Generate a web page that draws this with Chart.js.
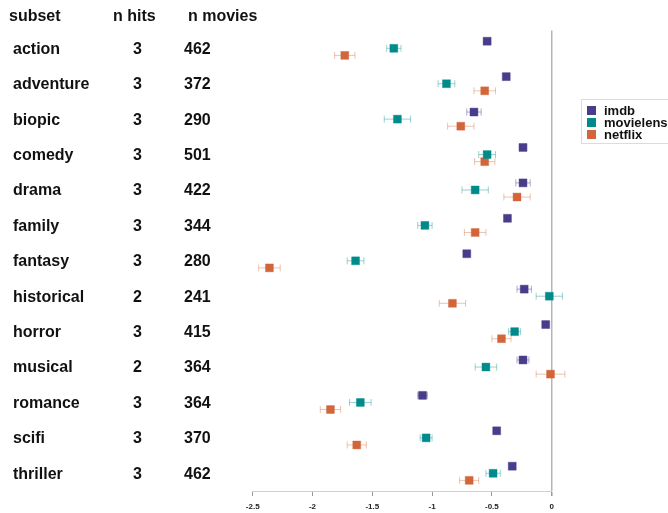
<!DOCTYPE html>
<html>
<head>
<meta charset="utf-8">
<script src="https://cdn.jsdelivr.net/npm/chart.js@4"></script>
<style>
  body { margin: 0; background: #fff; }
  #wrap { width: 668px; height: 513px; }
</style>
</head>
<body>
<div id="wrap"><canvas id="myChart" width="668" height="513"></canvas></div>
<script>
const $grafica = document.querySelector("#myChart");

const subsets = ["action", "adventure", "biopic", "comedy", "drama", "family", "fantasy",
  "historical", "horror", "musical", "romance", "scifi", "thriller"];
const nHits = [3, 3, 3, 3, 3, 3, 3, 2, 3, 2, 3, 3, 3];
const nMovies = [462, 372, 290, 501, 422, 344, 280, 241, 415, 364, 364, 370, 462];

// estimates
const imdb = [-0.54, -0.38, -0.65, -0.24, -0.24, -0.37, -0.71, -0.23, -0.05, -0.24, -1.08, -0.46, -0.33];
const imdbErr = [0.03, 0.02, 0.06, 0.03, 0.06, 0.01, 0.01, 0.06, 0.01, 0.05, 0.04, 0.01, 0.01];
const movielens = [-1.32, -0.88, -1.29, -0.54, -0.64, -1.06, -1.64, -0.02, -0.31, -0.55, -1.60, -1.05, -0.49];
const movielensErr = [0.06, 0.07, 0.11, 0.07, 0.11, 0.06, 0.07, 0.11, 0.05, 0.09, 0.09, 0.05, 0.06];
const netflix = [-1.73, -0.56, -0.76, -0.56, -0.29, -0.64, -2.36, -0.83, -0.42, -0.01, -1.85, -1.63, -0.69];
const netflixErr = [0.085, 0.09, 0.11, 0.085, 0.11, 0.09, 0.09, 0.11, 0.08, 0.12, 0.085, 0.08, 0.08];

const xTicks = [-2.5, -2, -1.5, -1, -0.5, 0];

const FONT = "'Liberation Sans', Arial, sans-serif";

function serie(label, vals, errs, color, light, shift) {
  return {
    label: label,
    data: vals.map((v, i) => ({ x: v, y: i + shift, err: errs[i] })),
    pointStyle: 'rect',
    pointRadius: 5.6,
    pointHoverRadius: 5.6,
    backgroundColor: color,
    borderColor: light,
    borderWidth: 1,
    errColor: light,
    clip: false,
  };
}

const datasets = [
  serie("imdb", imdb, imdbErr, '#483d8b', 'rgba(72,61,139,0.45)', -0.2),
  serie("movielens", movielens, movielensErr, '#008b8b', 'rgba(0,139,139,0.4)', 0),
  serie("netflix", netflix, netflixErr, '#d2663a', 'rgba(210,102,58,0.4)', 0.2),
];

// barras de error
const errorBars = {
  id: 'errorBars',
  beforeDatasetsDraw(chart) {
    const ctx = chart.ctx;
    const xs = chart.scales.x, ys = chart.scales.y;
    ctx.save();
    chart.data.datasets.forEach(ds => {
      ctx.strokeStyle = ds.errColor;
      ctx.lineWidth = 1;
      ds.data.forEach(p => {
        const y = ys.getPixelForValue(p.y);
        const x1 = xs.getPixelForValue(p.x - p.err);
        const x2 = xs.getPixelForValue(p.x + p.err);
        ctx.beginPath();
        ctx.moveTo(x1, y); ctx.lineTo(x2, y);
        ctx.moveTo(x1, y - 3.5); ctx.lineTo(x1, y + 3.5);
        ctx.moveTo(x2, y - 3.5); ctx.lineTo(x2, y + 3.5);
        ctx.stroke();
      });
    });
    ctx.restore();
  }
};

// tabla de la izquierda y leyenda
const tabla = {
  id: 'tabla',
  afterDraw(chart) {
    const ctx = chart.ctx;
    const ys = chart.scales.y;
    ctx.save();
    ctx.fillStyle = '#111';
    ctx.textBaseline = 'middle';
    ctx.font = "bold 16px " + FONT;
    ctx.textAlign = 'left';
    ctx.fillText("subset", 9, 17);
    ctx.fillText("n hits", 113, 17);
    ctx.fillText("n movies", 188, 17);
    subsets.forEach((s, i) => {
      const y = ys.getPixelForValue(i) + 1;
      ctx.textAlign = 'left';
      ctx.fillText(s, 13, y);
      ctx.textAlign = 'center';
      ctx.fillText(String(nHits[i]), 137.5, y);
      ctx.textAlign = 'left';
      ctx.fillText(String(nMovies[i]), 184, y);
    });

    // leyenda
    ctx.strokeStyle = '#dcdcdc';
    ctx.lineWidth = 1;
    ctx.strokeRect(581.5, 99.5, 100, 44);
    ctx.font = "bold 13px " + FONT;
    chart.data.datasets.forEach((ds, k) => {
      const y = 110.5 + k * 12;
      ctx.fillStyle = ds.backgroundColor;
      ctx.fillRect(587, y - 4.5, 9, 9);
      ctx.fillStyle = '#111';
      ctx.fillText(ds.label, 604, y + 0.5);
    });
    ctx.restore();
  }
};

var myChart = new Chart($grafica, {
  type: 'scatter',
  data: { datasets: datasets },
  options: {
    responsive: false,
    animation: false,
    devicePixelRatio: 1,
    layout: { padding: { left: 252.7, right: 116.3, top: 30.6, bottom: 0 } },
    plugins: {
      legend: { display: false },
      tooltip: { enabled: false },
    },
    scales: {
      x: {
        type: 'linear',
        min: -2.5,
        max: 0,
        afterBuildTicks: s => { s.ticks = xTicks.map(v => ({ value: v })); },
        afterFit: s => { s.height = 22; },
        ticks: {
          color: '#222',
          padding: 6,
          callback: v => String(v),
          font: { family: FONT, size: 8, weight: 'bold' },
        },
        grid: {
          drawOnChartArea: true,
          color: c => (c.tick && c.tick.value === 0) ? '#b5b5b5' : 'rgba(0,0,0,0)',
          lineWidth: c => (c.tick && c.tick.value === 0) ? 1.5 : 1,
          tickColor: '#999',
          tickLength: 5,
        },
        border: { display: true, color: '#cfcfcf', width: 1 },
      },
      y: {
        type: 'linear',
        display: false,
        reverse: true,
        min: -0.5,
        max: 12.5,
      },
    },
  },
  plugins: [errorBars, tabla],
});
</script>
</body>
</html>
